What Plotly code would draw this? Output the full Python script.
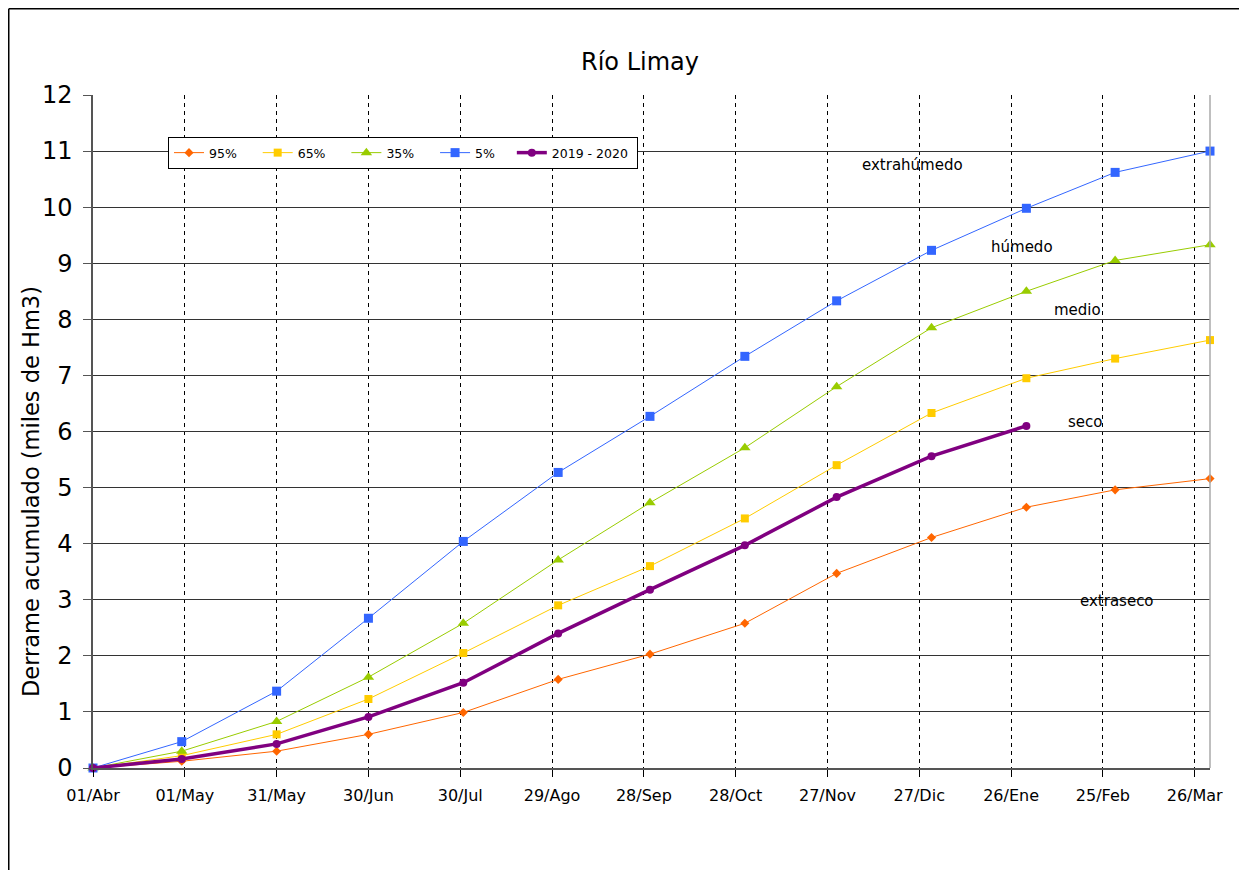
import plotly.graph_objects as go

# ---- data ----
dates = ["2019-04-01", "2019-04-30", "2019-05-31", "2019-06-30", "2019-07-31",
         "2019-08-31", "2019-09-30", "2019-10-31", "2019-11-30", "2019-12-31",
         "2020-01-31", "2020-02-29", "2020-03-31"]

p95 = [0, 0.12, 0.30, 0.60, 0.99, 1.58, 2.03, 2.58, 3.47, 4.11, 4.65, 4.96, 5.16]
p65 = [0, 0.22, 0.60, 1.23, 2.05, 2.90, 3.60, 4.45, 5.40, 6.33, 6.95, 7.30, 7.63]
p35 = [0, 0.30, 0.83, 1.62, 2.58, 3.71, 4.73, 5.71, 6.80, 7.85, 8.50, 9.05, 9.33]
p5 = [0, 0.47, 1.37, 2.67, 4.04, 5.27, 6.27, 7.34, 8.33, 9.23, 9.98, 10.62, 11.00]
y2019 = [0, 0.16, 0.43, 0.91, 1.52, 2.40, 3.18, 3.97, 4.83, 5.56, 6.10]

series_names = ["95%", "65%", "35%", "5%", "2019 - 2020"]

tick_vals = ["2019-04-01", "2019-05-01", "2019-05-31", "2019-06-30", "2019-07-30",
             "2019-08-29", "2019-09-28", "2019-10-28", "2019-11-27", "2019-12-27",
             "2020-01-26", "2020-02-25", "2020-03-26"]
tick_text = ["01/Abr", "01/May", "31/May", "30/Jun", "30/Jul", "29/Ago", "28/Sep",
             "28/Oct", "27/Nov", "27/Dic", "26/Ene", "25/Feb", "26/Mar"]

zone_labels = ["extrahúmedo", "húmedo", "medio", "seco", "extraseco"]
y_title = "Derrame acumulado (miles de Hm3)"

FONT = "DejaVu Sans"
NB = "\u00a0"

fig = go.Figure()

styles = [
    ("#FF6600", "diamond", 7, 1, 4),
    ("#FFCC00", "square", 8, 1, 4),
    ("#99CC00", "triangle-up", 10, 1, 4),
    ("#3366FF", "square", 9, 1, 3),
]
for name, vals, (col, sym, ms, lw, pad) in zip(series_names[:4], [p95, p65, p35, p5], styles):
    fig.add_trace(go.Scatter(
        x=dates[:len(vals)], y=vals, name=name + NB * pad, mode="lines+markers",
        line=dict(color=col, width=lw),
        marker=dict(color=col, symbol=sym, size=ms),
        cliponaxis=False,
    ))
fig.add_trace(go.Scatter(
    x=dates[:len(y2019)], y=y2019, name=series_names[4] + NB, mode="lines+markers",
    line=dict(color="#800080", width=3.5),
    marker=dict(color="#800080", symbol="circle", size=8),
    cliponaxis=False,
))

# page offset (body margin) = 8px
OFF = 8
W, H = 1239, 862
L, R, T, B = 93 - OFF, 1210 - OFF, 95 - OFF, 768 - OFF
pw, ph = R - L, B - T

def px2x(p):
    return (p - OFF - L) / pw

def py2y(p):
    return (B - (p - OFF)) / ph

# zone labels (paper coordinates, from page pixel positions)
label_pos = [(912, 165), (1022, 247), (1077, 310), (1085, 422), (1117, 601)]
for txt, (px, py) in zip(zone_labels, label_pos):
    fig.add_annotation(text=txt, x=px2x(px), y=py2y(py), xref="paper", yref="paper",
                       xanchor="center", yanchor="middle",
                       showarrow=False, font=dict(family=FONT, size=15, color="#000"))

# y-axis title
fig.add_annotation(text=y_title, x=px2x(31), y=py2y(492), xref="paper", yref="paper",
                   xanchor="center", yanchor="middle", textangle=-90, showarrow=False,
                   font=dict(family=FONT, size=22.5, color="#000"))

# outer frame (top and left)
fx = px2x(OFF + 0.75)
fy = py2y(OFF + 0.75)
fig.add_shape(type="line", xref="paper", yref="paper",
              x0=fx, x1=px2x(1300), y0=fy, y1=fy,
              line=dict(color="#000", width=1.5))
fig.add_shape(type="line", xref="paper", yref="paper",
              x0=fx, x1=fx, y0=fy, y1=py2y(900),
              line=dict(color="#000", width=1.5))
# right border of plot area
fig.add_shape(type="line", xref="paper", yref="paper",
              x0=1, x1=1, y0=0, y1=1, line=dict(color="#AAAAAA", width=1.5))

fig.update_layout(
    width=W, height=H,
    margin=dict(l=L, r=W - R, t=T, b=H - B),
    paper_bgcolor="white", plot_bgcolor="white",
    font=dict(family=FONT, color="#000"),
    title=dict(text="Río Limay", x=px2x(640), xanchor="center", xref="paper",
               y=1 - (62 - OFF) / H, yanchor="middle",
               font=dict(family=FONT, size=24, color="#000")),
    showlegend=True,
    legend=dict(orientation="h", x=px2x(168), y=py2y(137), xanchor="left", yanchor="top",
                bordercolor="#000", borderwidth=1, bgcolor="white",
                font=dict(family=FONT, size=12.5, color="#000"),
                itemwidth=30, tracegroupgap=0),
    xaxis=dict(
        type="date", range=["2019-04-01", "2020-03-31"],
        tickvals=tick_vals, ticktext=tick_text,
        tickfont=dict(family=FONT, size=16, color="#000"),
        showgrid=True, gridcolor="#000", gridwidth=1, griddash="4px,4px",
        ticks="outside", ticklen=7, tickcolor="#000",
        ticklabelstandoff=5,
        showline=True, linecolor="#555", linewidth=1.5,
        zeroline=False,
    ),
    yaxis=dict(
        range=[0, 12], tickvals=list(range(0, 13)),
        tickfont=dict(family=FONT, size=24, color="#000"),
        showgrid=True, gridcolor="#333", gridwidth=1.2,
        ticks="outside", ticklen=8, tickcolor="#555",
        ticklabelstandoff=6,
        showline=True, linecolor="#555", linewidth=1.5,
        zeroline=False,
    ),
)

fig.write_html("out.html")
